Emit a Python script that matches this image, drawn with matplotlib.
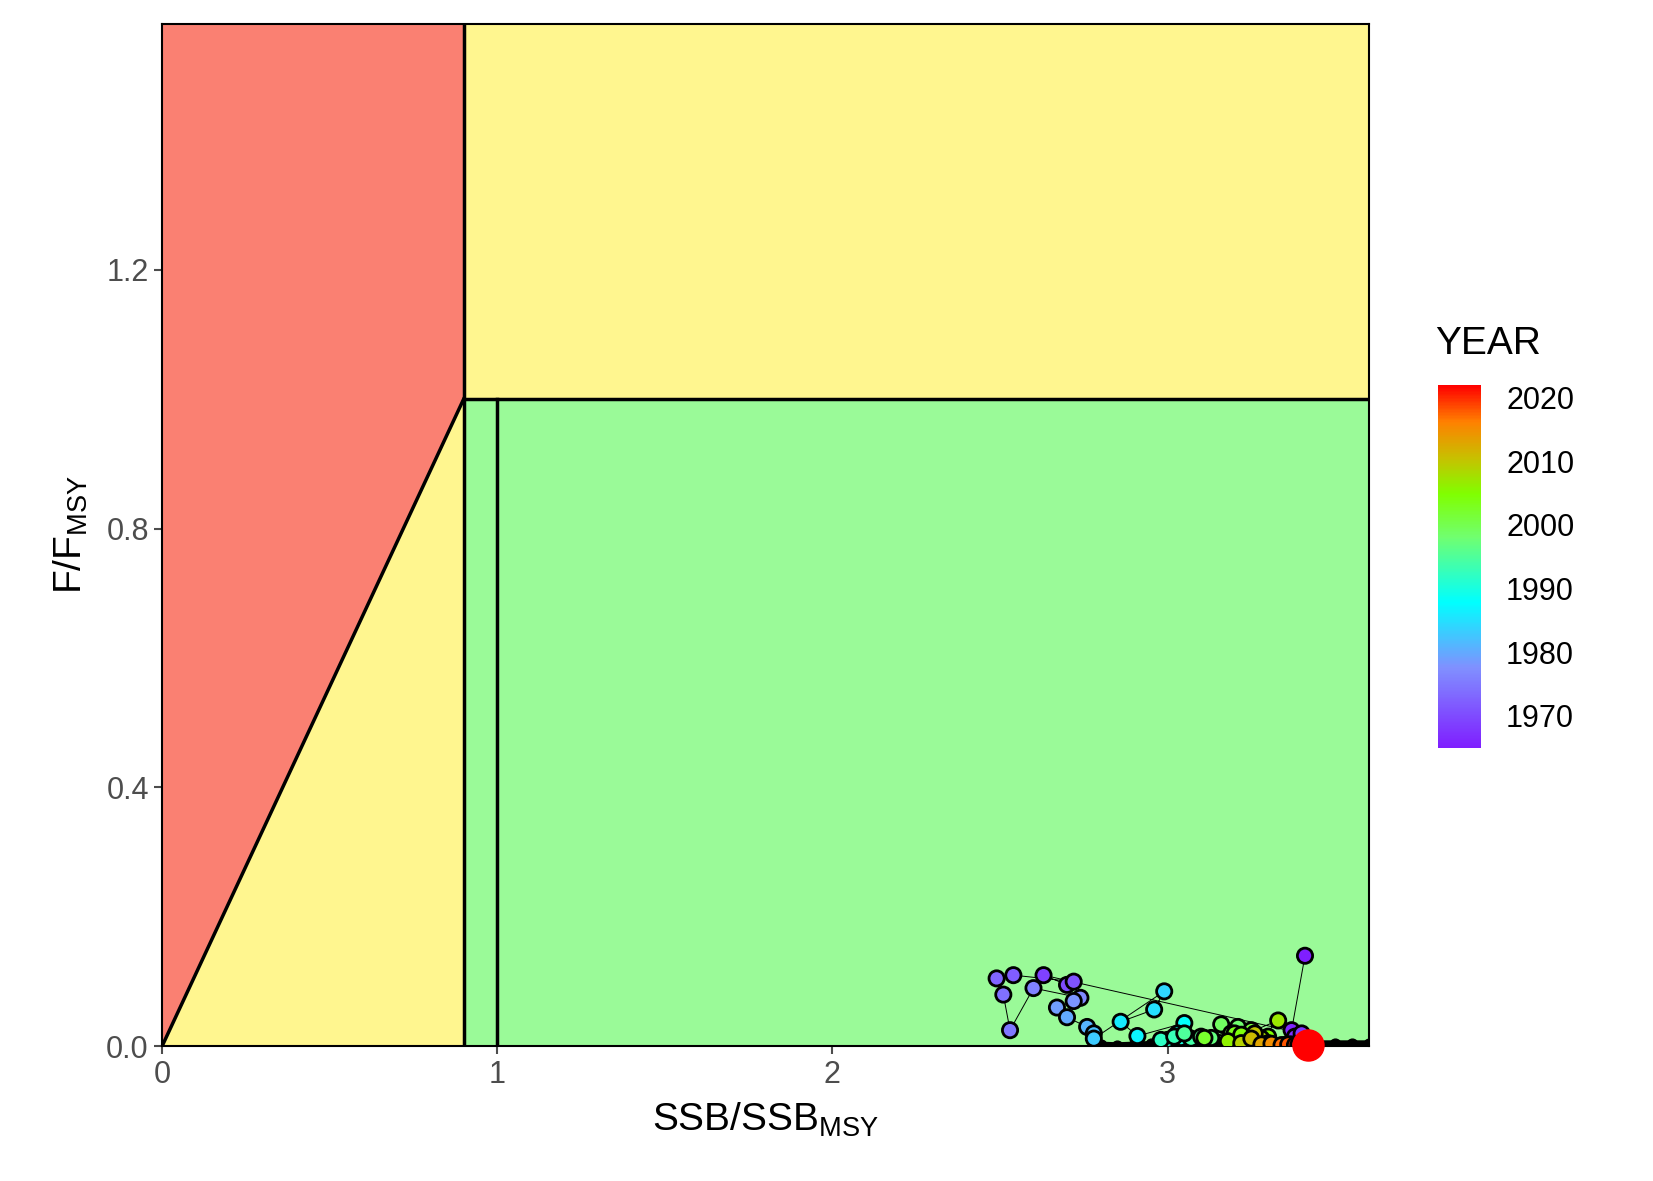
import matplotlib
matplotlib.use('Agg')
import matplotlib.pyplot as plt
from matplotlib.patches import Polygon
from matplotlib.colors import LinearSegmentedColormap

plt.rcParams['font.family'] = ['Liberation Sans', 'DejaVu Sans']

# stock trajectory
years = list(range(1965, 2023))
ssb = [3.41, 3.37, 3.38, 3.40, 2.63, 2.70, 2.72, 2.54, 2.49, 2.51, 2.53, 2.60, 2.74, 2.72, 2.67,
       2.70, 2.76, 2.78, 2.78, 2.99, 2.96, 2.86, 2.91, 3.05, 3.03, 3.04, 3.00, 2.98, 3.02, 3.07,
       3.05, 3.10, 3.13, 3.21, 3.16, 3.19, 3.25, 3.11, 3.20, 3.22, 3.30, 3.18, 3.33, 3.28, 3.22,
       3.26, 3.25, 3.30, 3.28, 3.35, 3.31, 3.37, 3.34, 3.36, 3.38, 3.39, 3.40, 3.42]
f_ratio = [0.14, 0.025, 0.015, 0.02, 0.11, 0.095, 0.10, 0.11, 0.105, 0.08, 0.025, 0.09, 0.075, 0.07, 0.06,
           0.045, 0.03, 0.02, 0.012, 0.085, 0.057, 0.038, 0.016, 0.036, 0.02, 0.013, 0.01, 0.01, 0.015, 0.012,
           0.02, 0.015, 0.013, 0.03, 0.034, 0.02, 0.025, 0.013, 0.02, 0.018, 0.015, 0.008, 0.04, 0.012, 0.005,
           0.02, 0.012, 0.005, 0.003, 0.002, 0.004, 0.003, 0.002, 0.003, 0.002, 0.002, 0.002, 0.002]
# projection runs along F ~ 0
proj_ssb = [2.80, 2.85, 2.90, 2.95, 3.00, 3.05, 3.10, 3.15, 3.20, 3.25, 3.30, 3.35, 3.40, 3.45, 3.50, 3.55, 3.60]
proj_f = [0.002, 0.001, 0.002, 0.003, 0.003, 0.002, 0.003, 0.004, 0.003, 0.004, 0.003, 0.004, 0.005, 0.004, 0.004, 0.004, 0.004]

xmax, ymax = 3.6, 1.58

cmap = LinearSegmentedColormap.from_list('yr', [
    (0.0, '#7F1FFF'), (0.22, '#8090FF'), (0.40, '#00FFFF'), (0.58, '#70FF70'),
    (0.70, '#80FF00'), (0.80, '#C8C000'), (0.90, '#FF8000'), (1.0, '#FF0000')])

fig = plt.figure(figsize=(16.53, 11.81), dpi=100)
ax = fig.add_axes([0.098, 0.114, 0.730, 0.866])

ax.add_patch(Polygon([(0, 0), (0.9, 1), (0.9, ymax), (0, ymax)], color='#FA8072', lw=0))
ax.add_patch(Polygon([(0, 0), (0.9, 1), (0.9, 0)], color='#FFF68F', lw=0))
ax.add_patch(Polygon([(0.9, 1), (xmax, 1), (xmax, ymax), (0.9, ymax)], color='#FFF68F', lw=0))
ax.add_patch(Polygon([(0.9, 0), (xmax, 0), (xmax, 1), (0.9, 1)], color='#9AFA98', lw=0))
ax.plot([0, 0.9], [0, 1], color='black', lw=2.5)
ax.plot([0.9, 0.9], [0, ymax], color='black', lw=2.5)
ax.plot([0.9, xmax], [1, 1], color='black', lw=2.5)
ax.plot([1, 1], [0, 1], color='black', lw=2.5)

ax.plot(proj_ssb, proj_f, color='black', lw=5, zorder=3)
ax.scatter(proj_ssb, proj_f, color='black', s=60, zorder=3)
ax.plot(ssb, f_ratio, color='black', lw=0.7, zorder=4)
sc = ax.scatter(ssb[:-1], f_ratio[:-1], c=years[:-1], cmap=cmap, vmin=1965, vmax=2022,
                s=120, edgecolors='black', linewidths=2, zorder=5)
ax.scatter(ssb[-1:], f_ratio[-1:], color='red', s=500, edgecolors='red', zorder=6, clip_on=False)

ax.set_xlim(0, xmax)
ax.set_ylim(0, ymax)
ax.set_xticks([0, 1, 2, 3])
ax.set_yticks([0.0, 0.4, 0.8, 1.2])
ax.set_yticklabels(['0.0', '0.4', '0.8', '1.2'])
ax.tick_params(labelsize=22, colors='#4D4D4D', length=6, width=1.5)
for s in ax.spines.values():
    s.set_linewidth(1.5)
ax.set_xlabel(r'SSB/SSB$_{\mathregular{MSY}}$', fontsize=28, labelpad=8)
ax.set_ylabel(r'F/F$_{\mathregular{MSY}}$', fontsize=28, labelpad=12)

cax = fig.add_axes([0.870, 0.367, 0.026, 0.307])
cb = fig.colorbar(sc, cax=cax, ticks=[1970, 1980, 1990, 2000, 2010, 2020])
cb.outline.set_visible(False)
cb.ax.tick_params(labelsize=22, length=6, color='white', labelcolor='black', pad=12)
fig.text(0.868, 0.70, 'YEAR', fontsize=28)

fig.savefig('out.png', dpi=100)
